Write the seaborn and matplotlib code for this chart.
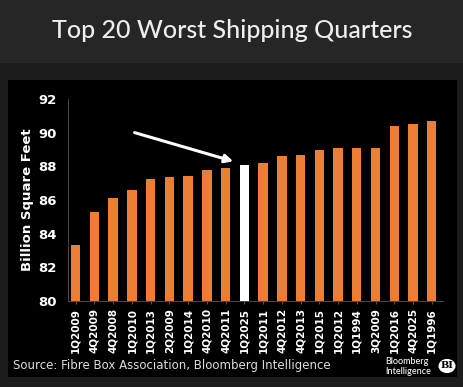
import matplotlib
matplotlib.use("Agg")
import matplotlib.pyplot as plt
import pandas as pd
import seaborn as sns
from matplotlib.patches import Rectangle, Circle

quarters = ["1Q2009", "4Q2009", "4Q2008", "1Q2010", "1Q2013", "2Q2009", "1Q2014",
            "4Q2010", "4Q2011", "1Q2025", "1Q2011", "4Q2012", "4Q2013", "1Q2015",
            "1Q2012", "1Q1994", "3Q2009", "1Q2016", "4Q2025", "1Q1996"]
shipments = [83.35, 85.3, 86.1, 86.6, 87.25, 87.35, 87.4, 87.8, 87.9, 88.05,
             88.2, 88.6, 88.7, 89.0, 89.07, 89.09, 89.09, 90.42, 90.5, 90.7]
highlight = "1Q2025"

ORANGE = "#ED7D31"
df = pd.DataFrame({"quarter": quarters, "bsf": shipments})
palette = {q: ("white" if q == highlight else ORANGE) for q in quarters}

W, H = 464, 387
fig = plt.figure(figsize=(W / 100, H / 100), dpi=100)
fig.patch.set_facecolor("#1c1c1c")
fig.patches.append(Rectangle((0, 1 - 63 / H), 1, 63 / H, transform=fig.transFigure,
                             facecolor="#262626", edgecolor="none", zorder=0))
fig.patches.append(Rectangle((8 / W, 1 - 377 / H), 449 / W, 297 / H, transform=fig.transFigure,
                             facecolor="black", edgecolor="none", zorder=0))

ax = fig.add_axes([68 / W, 1 - 301 / H, (443 - 68) / W, (301 - 99) / H])
ax.set_zorder(3)
ax.set_facecolor("black")
sns.barplot(data=df, x="quarter", y="bsf", hue="quarter", palette=palette,
            width=0.5, legend=False, ax=ax, saturation=1)

ax.set_ylim(80, 92)
ax.set_yticks(range(80, 93, 2))
ax.set_xlim(-0.41, 19.6)
ax.set_xlabel("")
ax.set_ylabel("Billion Square Feet", color="white", fontsize=9.5, fontweight="bold", labelpad=3)
ax.tick_params(axis="y", colors="white", labelsize=9.5, length=0, pad=8)
ax.tick_params(axis="x", colors="white", labelsize=7.5, length=2, pad=3, rotation=90)
for lbl in ax.get_yticklabels() + ax.get_xticklabels():
    lbl.set_fontweight("bold")
for side in ["top", "right"]:
    ax.spines[side].set_visible(False)
for side in ["left", "bottom"]:
    ax.spines[side].set_color("#555555")
    ax.spines[side].set_linewidth(0.6)
ax.tick_params(axis="x", color="#555555")

ax.annotate("", xy=(8.55, 88.25), xytext=(3.0, 90.05),
            arrowprops=dict(arrowstyle="-|>", color="white", lw=2.2, mutation_scale=12))

fig.text(0.5, 1 - 31 / H, "Top 20 Worst Shipping Quarters", ha="center", va="center",
         color="#eeeeee", fontsize=18, family="Lato", fontweight="medium")
fig.text(13 / W, 1 - 366 / H, "Source: Fibre Box Association, Bloomberg Intelligence",
         ha="left", va="center", color="#dddddd", fontsize=8.5)
fig.text(385 / W, 1 - 366.5 / H, "Bloomberg\nIntelligence", ha="left", va="center",
         color="white", fontsize=6.5, linespacing=1.05, family="Lato", fontweight="medium")
fig.patches.append(Circle((447 / W, 1 - 366 / H), 8.5 / W, transform=fig.transFigure,
                          facecolor="white", edgecolor="none", zorder=4))
fig.text(447 / W, 1 - 366 / H, "BI", ha="center", va="center", color="black",
         fontsize=7, fontweight="bold", family="DejaVu Serif", zorder=5)

fig.savefig("out.png", dpi=100, facecolor=fig.get_facecolor())
